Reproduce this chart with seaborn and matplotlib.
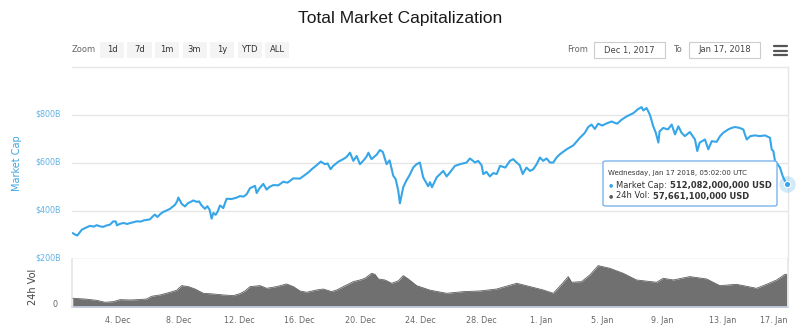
import numpy as np
import pandas as pd
import matplotlib
matplotlib.use("Agg")
import matplotlib.pyplot as plt
import matplotlib.transforms as mtransforms
from matplotlib.patches import FancyBboxPatch, Rectangle
from matplotlib.lines import Line2D
import seaborn as sns

# ---------------- data ----------------
start_date = "2017-12-01"

# fractional days since Dec 1 2017 00:00, market cap in billions USD
mcap_days = [0.0, 0.15, 0.3, 0.45, 0.6, 0.85, 1.14, 1.4, 1.58, 1.8, 2.02, 2.25, 2.46, 2.6, 2.68,
             2.85, 2.92, 3.1, 3.34, 3.6, 3.8, 4.0, 4.22, 4.5, 4.7, 5.1, 5.3, 5.43, 5.6, 5.8, 5.98,
             6.2, 6.43, 6.6, 6.76, 6.9, 6.98, 7.1, 7.2, 7.42, 7.6, 7.8, 7.97, 8.2, 8.35, 8.52,
             8.74, 8.9, 9.05, 9.18, 9.3, 9.45, 9.6, 9.73, 9.85, 9.95, 10.17, 10.5, 10.8, 11.05,
             11.3, 11.5, 11.72, 12.05, 12.16, 12.35, 12.6, 12.82, 13.0, 13.26, 13.59, 13.92,
             14.2, 14.58, 15.02, 15.35, 15.6, 15.8, 16.13, 16.4, 16.67, 16.85, 17.05, 17.22,
             17.55, 17.88, 18.1, 18.33, 18.55, 18.77, 18.99, 19.2, 19.43, 19.55, 19.75, 19.95,
             20.1, 20.31, 20.5, 20.75, 20.95, 21.19, 21.35, 21.52, 21.63, 21.85, 22.05, 22.25,
             22.51, 22.73, 22.95, 23.17, 23.35, 23.5, 23.62, 23.75, 24.06, 24.5, 24.72, 24.94,
             25.27, 25.6, 26.04, 26.26, 26.6, 26.8, 27.03, 27.14, 27.35, 27.58, 27.8, 28.03,
             28.25, 28.6, 28.91, 29.12, 29.35, 29.55, 29.75, 30.0, 30.23, 30.45, 30.67, 30.89,
             31.1, 31.33, 31.55, 31.77, 31.99, 32.2, 32.65, 33.09, 33.53, 33.86, 34.08, 34.3,
             34.52, 34.74, 35.0, 35.3, 35.63, 35.85, 36.0, 36.3, 36.62, 37.07, 37.39, 37.61,
             37.72, 37.94, 38.16, 38.38, 38.55, 38.72, 38.8, 39.04, 39.35, 39.6, 39.82, 40.04,
             40.25, 40.47, 40.8, 41.14, 41.29, 41.45, 41.8, 42.02, 42.25, 42.57, 42.8, 43.01,
             43.34, 43.56, 43.78, 44.1, 44.33, 44.56, 44.8, 45.1, 45.43, 45.77, 46.1, 46.21,
             46.32, 46.43, 46.6, 46.76, 46.93, 47.05, 47.21]
mcap_values = [308, 302, 298, 310, 322, 330, 338, 335, 341, 336, 334, 340, 343, 352, 357,
               356, 340, 346, 350, 346, 350, 353, 357, 356, 361, 365, 378, 385, 375, 388, 396,
               402, 409, 418, 426, 440, 456, 442, 430, 419, 432, 438, 444, 438, 440, 423,
               409, 420, 405, 368, 392, 384, 400, 423, 418, 412, 451, 450, 455, 462,
               460, 470, 495, 505, 475, 495, 513, 489, 500, 508, 507, 522,
               518, 536, 535, 550, 562, 574, 591, 606, 595, 598, 574, 588,
               605, 616, 625, 643, 609, 629, 595, 609, 627, 643, 616, 627,
               635, 654, 646, 595, 611, 547, 533, 485, 432, 499, 526, 547,
               581, 595, 602, 540, 520, 503, 520, 499, 540, 567, 544, 561,
               588, 595, 602, 619, 602, 609, 591, 554, 563, 544, 558, 554,
               588, 581, 609, 616, 602, 591, 554, 581, 567, 574, 595, 623,
               609, 619, 602, 602, 623, 636, 657, 673, 705, 726, 750, 760,
               742, 764, 756, 765, 773, 767, 764, 781, 794, 808, 825, 833,
               819, 829, 801, 753, 726, 685, 732, 746, 740, 760, 719, 753,
               726, 712, 729, 698, 650, 685, 698, 657, 691, 688, 712, 726,
               740, 746, 750, 746, 740, 698, 712, 715, 712, 715, 705, 657,
               650, 609, 595, 581, 547, 530, 512.082]

# 24h volume, billions USD
vol_days = [0.0, 0.8, 1.58, 2.13, 2.68, 3.12, 3.78, 4.4, 4.89, 5.22, 5.77, 6.43, 6.87, 7.2,
            7.64, 8.08, 8.63, 9.29, 9.95, 10.61, 11.05, 11.39, 11.72, 12.38, 12.82, 13.48,
            14.14, 14.58, 15.02, 15.46, 16.13, 16.56, 17.12, 17.45, 18.11, 18.55, 18.99,
            19.32, 19.76, 19.98, 20.2, 20.64, 21.08, 21.52, 21.85, 22.18, 22.73, 23.62,
            24.72, 25.82, 26.92, 28.03, 29.35, 30.23, 31.11, 31.77, 32.32, 32.76, 32.98,
            33.64, 34.19, 34.74, 35.51, 36.39, 37.27, 38.6, 39.04, 39.7, 40.8, 41.9, 42.78,
            43.89, 45.21, 45.87, 46.54, 47.09, 47.21]
vol_values = [15.8, 14.5, 12.2, 8.8, 9.9, 13.4, 12.8, 13.5, 14.6, 19.3, 21.6, 26.3, 29.8, 37.9,
              36.2, 32.0, 24.5, 23.3, 21.6, 20.4, 23.9, 28.6, 36.2, 37.9, 33.2, 36.2,
              40.8, 36.2, 28.6, 26.3, 30.3, 32.0, 27.4, 30.3, 39.1, 44.9, 47.8,
              50.8, 59.5, 57.7, 49.6, 47.8, 42.0, 46.1, 55.4, 49.6, 37.9, 30.0,
              24.5, 27.4, 28.6, 32.0, 42.0, 36.2, 30.3, 24.5, 40.2, 53.7, 43.8,
              44.9, 56.6, 72.9, 68.2, 59.5, 47.8, 43.8, 50.8, 47.8, 53.7, 49.6, 37.9,
              40.2, 33.2, 40.2, 47.8, 57.7, 57.661]

tick_dates = ["2017-12-04", "2017-12-08", "2017-12-12", "2017-12-16", "2017-12-20",
              "2017-12-24", "2017-12-28", "2018-01-01", "2018-01-05", "2018-01-09",
              "2018-01-13", "2018-01-17"]
mcap_ticks = [200, 400, 600, 800]
mcap_tick_labels = ["$200B", "$400B", "$600B", "$800B"]
vol_ticks = [0]
vol_tick_labels = ["0"]
zoom_buttons = ["1d", "7d", "1m", "3m", "1y", "YTD", "ALL"]
from_text, to_text = "Dec 1, 2017", "Jan 17, 2018"
title_text = "Total Market Capitalization"
tooltip_header = "Wednesday, Jan 17 2018, 05:02:00 UTC"
tooltip_rows = [("Market Cap: ", "512,082,000,000 USD"), ("24h Vol: ", "57,661,100,000 USD")]

# ---------------- build frames ----------------
base = pd.Timestamp(start_date)
df_m = pd.DataFrame({"date": base + pd.to_timedelta(mcap_days, unit="D"), "mcap": mcap_values})
df_v = pd.DataFrame({"date": base + pd.to_timedelta(vol_days, unit="D"), "vol": vol_values})

sns.set_theme(style="white")
plt.rcParams["font.family"] = ["DejaVu Sans"]

W, H = 800, 332
fig = plt.figure(figsize=(W / 100, H / 100), dpi=100)
fig.patch.set_facecolor("white")

def fx(px):
    return px / W

def fy(py):
    return 1 - py / H

BLUE = "#36a6e8"
GRID = "#e6e6e6"

left, right = 72.3, 788
ax1 = fig.add_axes([fx(left), fy(259), fx(right - left), (259 - 67) / H])
ax2 = fig.add_axes([fx(left), fy(307.3), fx(right - left), (307.3 - 259) / H])

sns.lineplot(data=df_m, x="date", y="mcap", ax=ax1, color=BLUE, linewidth=1.5,
             estimator=None, sort=False, zorder=3)
ax2.fill_between(df_v["date"], df_v["vol"], 0, color="#707070", linewidth=0, zorder=2)
sns.lineplot(data=df_v, x="date", y="vol", ax=ax2, color="#5e5e5e", linewidth=0.6,
             estimator=None, sort=False, zorder=3)

xmin = base + pd.Timedelta(days=-0.03)
xmax = base + pd.Timedelta(days=47.29)
for ax in (ax1, ax2):
    ax.set_xlim(xmin, xmax)
    ax.set_xlabel("")
    ax.set_ylabel("")
    ax.set_facecolor("white")

# upper panel
ax1.set_ylim(200, 1000)
ax1.set_yticks(mcap_ticks)
ax1.set_yticklabels(mcap_tick_labels)
ax1.set_xticks([])
ax1.yaxis.grid(True, color=GRID, linewidth=1)
ax1.tick_params(axis="y", length=0, pad=8, labelsize=5.8, labelcolor="#62b1e6")
for side in ("left",):
    ax1.spines[side].set_visible(False)
for side in ("top", "right", "bottom"):
    ax1.spines[side].set_color(GRID)
    ax1.spines[side].set_linewidth(1)
up = mtransforms.ScaledTranslation(0, 2 / 100, fig.dpi_scale_trans)
for lab in ax1.get_yticklabels():
    lab.set_transform(lab.get_transform() + up)

# lower panel
ax2.set_ylim(0, 84.5)
ax2.set_yticks(vol_ticks)
ax2.set_yticklabels(vol_tick_labels)
ax2.tick_params(axis="y", length=0, pad=11, labelsize=5.8, labelcolor="#666666")
up2 = mtransforms.ScaledTranslation(0, 4 / 100, fig.dpi_scale_trans)
for lab in ax2.get_yticklabels():
    lab.set_transform(lab.get_transform() + up2)
tdates = pd.to_datetime(tick_dates)
ax2.set_xticks(tdates)
ax2.set_xticklabels([f"{d.day}. {d.strftime('%b')}" for d in tdates])
ax2.tick_params(axis="x", length=4, width=0.8, color="#ccd6eb", pad=2.5,
                labelsize=5.8, labelcolor="#666666")
xl = ax2.get_xticklabels()
xl[-1].set_ha("right")
xl[-1].set_transform(xl[-1].get_transform() +
                     mtransforms.ScaledTranslation(4 / 100, 0, fig.dpi_scale_trans))
ax2.spines["top"].set_visible(False)
ax2.spines["left"].set_color(GRID)
ax2.spines["right"].set_color(GRID)
ax2.spines["bottom"].set_color("#ccd6eb")
ax2.spines["bottom"].set_linewidth(1.2)
ax2.spines["bottom"].set_zorder(5)

# axis titles
fig.text(fx(17), fy(163), "Market Cap", rotation=90, ha="center", va="center",
         fontsize=7, color="#3ea6e3")
fig.text(fx(33), fy(287), "24h Vol", rotation=90, ha="center", va="center",
         fontsize=7, color="#444444")

# title
fig.text(0.5, fy(19), title_text, ha="center", va="center", fontsize=12.5,
         family=["Liberation Sans", "DejaVu Sans"], color="#1a1a1a")

# range selector
fig.text(fx(72), fy(50), "Zoom", ha="left", va="center", fontsize=6, color="#666666")
for i, b in enumerate(zoom_buttons):
    x0 = 100 + i * 27.5
    fig.patches.append(Rectangle((fx(x0), fy(58)), fx(24), 16 / H, transform=fig.transFigure,
                                 facecolor="#f4f4f4", edgecolor="none"))
    fig.text(fx(x0 + 12), fy(50), b, ha="center", va="center", fontsize=6, color="#333333")

fig.text(fx(567), fy(50), "From", ha="left", va="center", fontsize=6, color="#666666")
fig.text(fx(673), fy(50), "To", ha="left", va="center", fontsize=6, color="#666666")
for (x0, x1, t) in ((594, 665, from_text), (689, 760, to_text)):
    fig.patches.append(Rectangle((fx(x0), fy(58)), fx(x1 - x0), 16 / H,
                                 transform=fig.transFigure, facecolor="white",
                                 edgecolor="#cccccc", linewidth=0.8))
    fig.text(fx((x0 + x1) / 2), fy(50), t, ha="center", va="center", fontsize=6,
             color="#444444")
for yy in (46, 50.5, 55):
    fig.lines.append(Line2D([fx(774), fx(787)], [fy(yy), fy(yy)], transform=fig.transFigure,
                            color="#555555", linewidth=1.6))

# hover marker on last point
last_d, last_v = df_m["date"].iloc[-1], df_m["mcap"].iloc[-1]
ax1.plot([last_d], [last_v], "o", ms=12, color=BLUE, alpha=0.22, mec="none",
         clip_on=False, zorder=6)
ax1.plot([last_d], [last_v], "o", ms=4.5, color=BLUE, mec="white", mew=0.8,
         clip_on=False, zorder=7)

# tooltip
tip = FancyBboxPatch((fx(603), fy(206)), fx(174), 45 / H,
                     boxstyle="round,pad=0,rounding_size=0.004",
                     transform=fig.transFigure, facecolor=(1, 1, 1, 0.88),
                     edgecolor="#7cb5ec", linewidth=1.0, zorder=20)
fig.patches.append(tip)
fig.text(fx(608), fy(173), tooltip_header, ha="left", va="center", fontsize=5,
         color="#333333", zorder=21)
renderer = fig.canvas.get_renderer()
for k, (lab, val) in enumerate(tooltip_rows):
    yy = 185 + k * 11
    col = BLUE if k == 0 else "#5a5a5a"
    fig.text(fx(611), fy(yy), "●", ha="center", va="center", fontsize=3.5, color=col, zorder=21)
    t1 = fig.text(fx(616.5), fy(yy), lab, ha="left", va="center", fontsize=6,
                  color="#333333", zorder=21)
    bb = t1.get_window_extent(renderer=renderer)
    fig.text(bb.x1 / W, fy(yy), val, ha="left", va="center", fontsize=6,
             fontweight="bold", color="#333333", zorder=21)

fig.savefig("out.png", dpi=100)
